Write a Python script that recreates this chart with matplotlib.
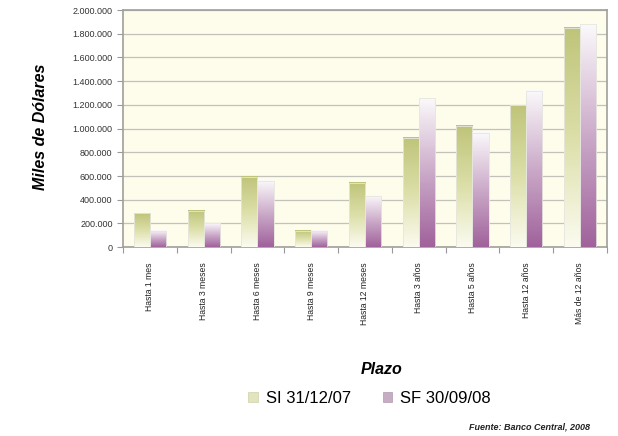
import matplotlib

matplotlib.use("Agg")
import matplotlib.pyplot as plt
import numpy as np
from matplotlib.colors import LinearSegmentedColormap
from matplotlib.ticker import FuncFormatter, FixedLocator

plt.rcParams["font.family"] = ["Liberation Sans", "DejaVu Sans"]

categories = ["Hasta 1 mes", "Hasta 3 meses", "Hasta 6 meses", "Hasta 9 meses",
              "Hasta 12 meses", "Hasta 3 años", "Hasta 5 años", "Hasta 12 años",
              "Más de 12 años"]
si_2007 = [285000, 305000, 595000, 135000, 545000, 925000, 1025000, 1195000, 1850000]
sf_2008 = [140000, 200000, 560000, 135000, 435000, 1255000, 965000, 1320000, 1880000]
series_labels = ["SI 31/12/07", "SF 30/09/08"]

green_cmap = LinearSegmentedColormap.from_list("g", ["#fbfbf0", "#dcdfa8", "#bfc47a"])
purple_cmap = LinearSegmentedColormap.from_list("p", ["#a0629b", "#cbaac9", "#fbf9fb"])

fig = plt.figure(figsize=(6.18, 4.36), dpi=100)
ax = fig.add_axes([0.199, 0.433, 0.783, 0.544])
ax.set_facecolor("#fefdec")

width = 0.3
x = np.arange(len(categories))
grad = np.linspace(0, 1, 128).reshape(-1, 1)


def gradient_bars(xs, heights, cmap):
    for xc, h in zip(xs, heights):
        ax.imshow(grad, cmap=cmap, origin="lower", aspect="auto",
                  extent=(xc - width / 2, xc + width / 2, 0, h), zorder=3)
        ax.add_patch(plt.Rectangle((xc - width / 2, 0), width, h, fill=False,
                                   edgecolor="#e6e6de", lw=0.6, zorder=4))


gradient_bars(x - width / 2, si_2007, green_cmap)
gradient_bars(x + width / 2, sf_2008, purple_cmap)

ax.set_xlim(-0.5, len(categories) - 0.5)
ax.set_ylim(0, 2000000)
ax.set_yticks(np.arange(0, 2000001, 200000))
ax.yaxis.set_major_formatter(FuncFormatter(lambda v, p: f"{int(v):,}".replace(",", ".")))
ax.grid(axis="y", color="#c2c2ba", lw=0.9, zorder=1)
ax.set_axisbelow(True)

ax.xaxis.set_major_locator(FixedLocator(np.arange(-0.5, len(categories), 1.0)))
ax.xaxis.set_major_formatter(FuncFormatter(lambda v, p: ""))
ax.set_xticks(x, minor=True)
ax.set_xticklabels(categories, minor=True, rotation=90, fontsize=6.2, color="#222222")
ax.tick_params(axis="x", which="minor", length=0, pad=11)
ax.tick_params(axis="x", which="major", length=4, color="#999999", direction="out")
ax.tick_params(axis="y", length=4, color="#999999", labelsize=6.5, labelcolor="#333333")

for s in ax.spines.values():
    s.set_color("#a0a09a")
    s.set_linewidth(1.2)

fig.text(0.065, 0.71, "Miles de Dólares", rotation=90, ha="center", va="center",
         fontsize=11.5, fontweight="bold", fontstyle="italic")
fig.text(0.617, 0.152, "Plazo", ha="center", va="center",
         fontsize=11.5, fontweight="bold", fontstyle="italic")

handles = [plt.Rectangle((0, 0), 1, 1, facecolor="#e2e4bd", edgecolor="#cfd0a8", lw=0.5),
           plt.Rectangle((0, 0), 1, 1, facecolor="#c7adc4", edgecolor="#b29ab0", lw=0.5)]
fig.legend(handles, series_labels, loc="center", bbox_to_anchor=(0.598, 0.087), ncol=2,
           frameon=False, fontsize=12, handlelength=0.55, handleheight=0.55,
           columnspacing=1.9, handletextpad=0.5)

fig.text(0.955, 0.02, "Fuente: Banco Central, 2008", ha="right", va="center",
         fontsize=6.5, fontstyle="italic", fontweight="bold", color="#222222")

fig.savefig("out.png", dpi=100)
plt.close(fig)
